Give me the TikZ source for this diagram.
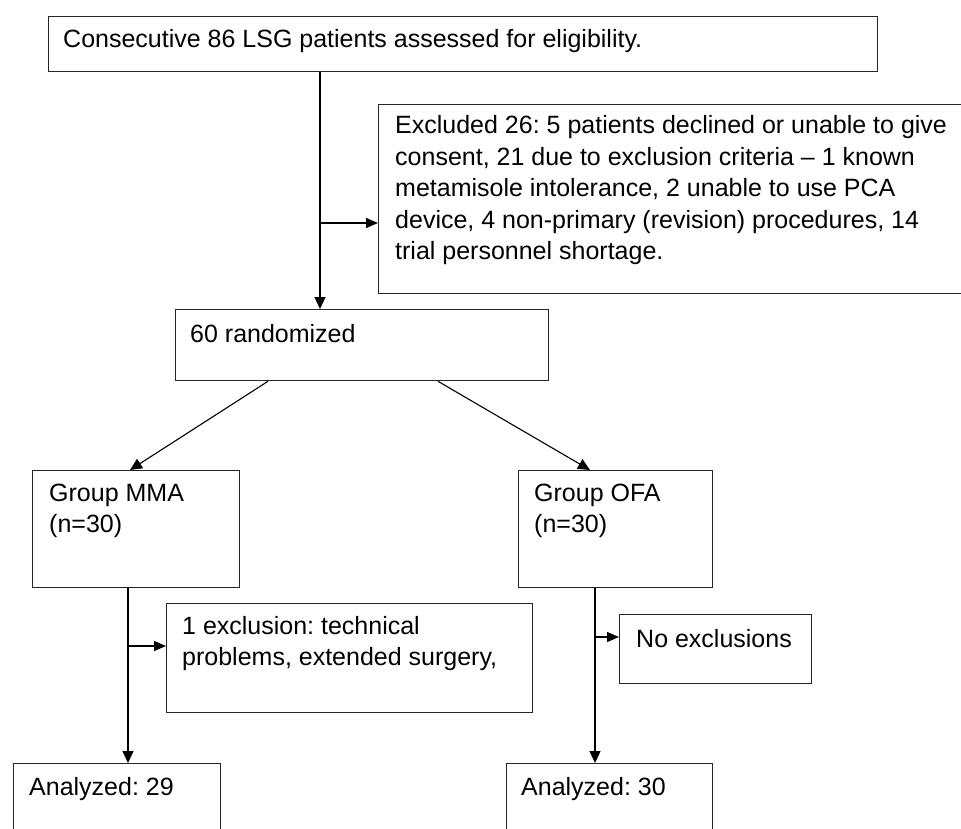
\documentclass[tikz,border=0pt]{standalone}
\usepackage{fontspec}
\setmainfont{Liberation Sans}
\usetikzlibrary{arrows.meta,calc}
\frenchspacing
\begin{document}
\begin{tikzpicture}[x=1pt,y=-1pt,
  box/.style={draw=black!85, line width=1.3pt, rectangle, inner sep=0pt, anchor=north west},
  txt/.style={inner sep=0pt, anchor=base west, font=\fontsize{25}{31.5}\selectfont\frenchspacing},
  arr/.style={draw=black, line width=1.1pt, -{Triangle[length=12pt,width=11pt]}},
  sarr/.style={draw=black, line width=1.1pt, -{Triangle[length=12pt,width=10pt]}}]
\useasboundingbox (0,0) rectangle (961,829);
\fill[white] (0,0) rectangle (961,829);

\node[box, minimum width=829pt, minimum height=55pt] (top) at (48,16) {};
\node[txt] (top-t) at (63,48) {Consecutive 86 LSG patients assessed for eligibility.};

\node[box, minimum width=620pt, minimum height=189pt] (excl) at (378,104) {};
\node[txt] (excl-t) at (395,134) {\parbox[t]{600pt}{\frenchspacing Excluded 26: 5 patients declined or unable to give\\
consent, 21 due to exclusion criteria -- 1 known\\
metamisole intolerance, 2 unable to use PCA\\
device, 4 non-primary (revision) procedures, 14\\
trial personnel shortage.}};

\node[box, minimum width=373pt, minimum height=71pt] (rand) at (175,309) {};
\node[txt] (rand-t) at (190,342) {60 randomized};

\node[box, minimum width=207pt, minimum height=117pt] (mma) at (32,470) {};
\node[txt] (mma-t) at (49,501) {\parbox[t]{180pt}{Group MMA\\(n=30)}};

\node[box, minimum width=194pt, minimum height=117pt] (ofa) at (518,470) {};
\node[txt] (ofa-t) at (534,501) {\parbox[t]{180pt}{Group OFA\\(n=30)}};

\node[box, minimum width=366pt, minimum height=109pt] (mmaex) at (166,603) {};
\node[txt] (mmaex-t) at (182,634) {\parbox[t]{350pt}{\frenchspacing 1 exclusion: technical\\problems, extended surgery,}};

\node[box, minimum width=192pt, minimum height=69pt] (ofaex) at (619,614) {};
\node[txt] (ofaex-t) at (636,647) {No exclusions};

\node[box, minimum width=207pt, minimum height=90pt] (an1) at (13,763) {};
\node[txt] (an1-t) at (29,795) {Analyzed: 29};

\node[box, minimum width=206pt, minimum height=90pt] (an2) at (506,763) {};
\node[txt] (an2-t) at (521,795) {Analyzed: 30};

\coordinate (j1) at (320,223);
\draw[arr] (top.south -| j1) -- (rand.north -| j1);
\draw[sarr] (j1) -- (excl.west |- j1);

\draw[arr] ($(rand.south west)+(93,0)$) -- ($(mma.north west)+(98,0)$);
\draw[arr] ($(rand.south west)+(263,0)$) -- ($(ofa.north west)+(72,0)$);

\coordinate (j2) at (128,646);
\draw[arr] (mma.south -| j2) -- (an1.north -| j2);
\draw[sarr] (j2) -- (mmaex.west |- j2);

\coordinate (j3) at (595,637);
\draw[arr] (ofa.south -| j3) -- (an2.north -| j3);
\draw[sarr] (j3) -- (ofaex.west |- j3);
\end{tikzpicture}
\end{document}
